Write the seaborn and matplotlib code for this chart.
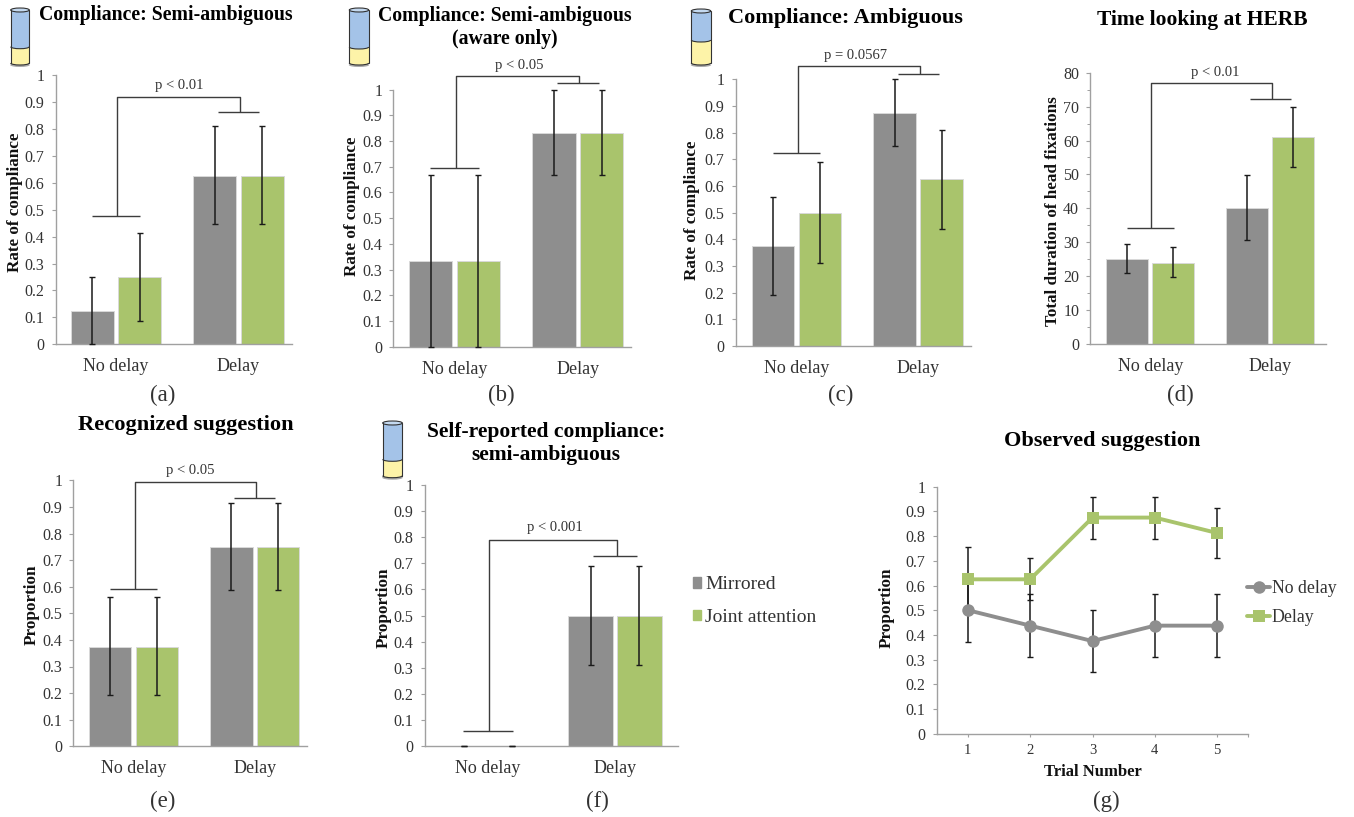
import pandas as pd
import numpy as np
import matplotlib
matplotlib.use("Agg")
import matplotlib.pyplot as plt
import seaborn as sns
from matplotlib.lines import Line2D
from matplotlib.patches import Arc, Patch, Rectangle, Ellipse

W, H = 1354, 817
GRAY = "#8e8e8e"
GREEN = "#a9c46c"
TICK_TEXT = "#333333"

conditions = ["No delay", "Delay"]
attention = ["Mirrored", "Joint attention"]

# means and error bar ends: mirrored no delay, mirrored delay, joint no delay, joint delay
a_means = [0.125, 0.625, 0.25, 0.625]
a_low = [0.0, 0.445, 0.085, 0.445]
a_high = [0.25, 0.81, 0.415, 0.81]

b_means = [0.333, 0.833, 0.333, 0.833]
b_low = [0.0, 0.667, 0.0, 0.667]
b_high = [0.667, 1.0, 0.667, 1.0]

c_means = [0.375, 0.875, 0.5, 0.625]
c_low = [0.193, 0.75, 0.31, 0.44]
c_high = [0.557, 1.0, 0.69, 0.81]

d_means = [25, 40, 24, 61]
d_low = [21, 30.7, 19.7, 52.2]
d_high = [29.5, 49.7, 28.5, 70]

e_means = [0.375, 0.75, 0.375, 0.75]
e_low = [0.193, 0.587, 0.193, 0.587]
e_high = [0.56, 0.915, 0.56, 0.915]

f_means = [0.0, 0.5, 0.0, 0.5]
f_low = [0.0, 0.31, 0.0, 0.31]
f_high = [0.0, 0.69, 0.0, 0.69]

trials = [1, 2, 3, 4, 5]
g_nodelay = [0.5, 0.4375, 0.375, 0.4375, 0.4375]
g_nodelay_low = [0.37, 0.31, 0.25, 0.31, 0.31]
g_nodelay_high = [0.63, 0.565, 0.5, 0.565, 0.565]
g_delay = [0.625, 0.625, 0.875, 0.875, 0.8125]
g_delay_low = [0.495, 0.54, 0.79, 0.79, 0.712]
g_delay_high = [0.755, 0.71, 0.96, 0.96, 0.915]

sns.set_theme(style="white")
plt.rcParams["font.family"] = ["Liberation Serif", "DejaVu Serif"]
plt.rcParams["axes.unicode_minus"] = False

fig = plt.figure(figsize=(W / 100, H / 100), dpi=100)

# overlay in pixel coordinates, for the titles, captions and cylinder icons
overlay = fig.add_axes([0, 0, 1, 1], zorder=5)
overlay.set_xlim(0, W)
overlay.set_ylim(H, 0)
overlay.axis("off")


def px_axes(left, right, top, bottom):
    return fig.add_axes([left / W, 1 - bottom / H, (right - left) / W, (bottom - top) / H])


def style_axes(ax, ymax, step, xlim):
    ax.set_xlim(*xlim)
    ax.set_ylim(0, ymax)
    ax.set_xlabel("")
    ax.set_ylabel("")
    ticks = np.arange(0, ymax + step / 2, step)
    ax.set_yticks(ticks)
    if step == 10:
        ax.set_yticklabels([str(int(t)) for t in ticks])
    else:
        ax.set_yticklabels(["0"] + ["%.1f" % t for t in ticks[1:-1]] + ["1"])
    sns.despine(ax=ax)
    for side in ["left", "bottom"]:
        ax.spines[side].set_color("#a0a0a0")
        ax.spines[side].set_linewidth(1.0)
    ax.tick_params(axis="y", left=True, length=3, width=0.8, color="#a0a0a0",
                   labelsize=11.5, labelcolor=TICK_TEXT, pad=5)


def bar_panel(box, means, low, high, ymax, step, xlim, bracket, p_text, p_pos):
    ax = px_axes(*box)
    df = pd.DataFrame({
        "condition": conditions * 2,
        "attention": [attention[0]] * 2 + [attention[1]] * 2,
        "value": means,
    })
    sns.barplot(data=df, x="condition", y="value", hue="attention", order=conditions,
                hue_order=attention, palette=[GRAY, GREEN], saturation=1, width=0.77, gap=0.088,
                errorbar=None, legend=False, edgecolor="#d9d9d9", linewidth=0.7, ax=ax)
    style_axes(ax, ymax, step, xlim)
    ax.tick_params(axis="x", bottom=False, labelsize=13, labelcolor=TICK_TEXT, pad=4)

    centers = [p.get_x() + p.get_width() / 2 for c in ax.containers for p in c]
    for x, m, lo, hi in zip(centers, means, low, high):
        ax.errorbar(x, m, yerr=[[m - lo], [hi - m]], color="#1a1a1a", lw=1.1,
                    capsize=2.2, capthick=1.0, clip_on=False, zorder=4)

    # significance bracket
    top, left_y, right_y = bracket
    line = dict(color="#3c3c3c", lw=1.0, clip_on=False, zorder=4, solid_capstyle="butt")
    ax.plot([0.01, 0.01, 1.012, 1.012], [left_y, top, top, right_y], **line)
    ax.plot([-0.195, 0.195], [left_y, left_y], **line)
    ax.plot([0.83, 1.17], [right_y, right_y], **line)
    ax.text(p_pos[0], p_pos[1], p_text, ha="center", va="center", fontsize=10.5,
            color=TICK_TEXT, clip_on=False)
    return ax


def cylinder(left, right, top, boundary, bottom):
    w = right - left
    mid = (left + right) / 2
    cap = 4.0
    edge = dict(color="#333333", lw=0.8)
    overlay.add_patch(Ellipse((mid, bottom + 1), w + 1, cap, color="#a8a8a8", lw=0))
    overlay.add_patch(Rectangle((left, boundary), w, bottom - boundary - 1, fc="#fdf3a8", ec="none"))
    overlay.add_patch(Ellipse((mid, bottom - 1), w, cap, fc="#fdf3a8", ec="none"))
    overlay.add_patch(Arc((mid, bottom - 1), w, cap, theta1=0, theta2=180, **edge))
    overlay.add_patch(Rectangle((left, top), w, boundary - top, fc="#a4c3e8", ec="none"))
    overlay.add_patch(Ellipse((mid, boundary), w, cap, fc="#a4c3e8", ec="none"))
    overlay.add_patch(Arc((mid, boundary), w, cap, theta1=0, theta2=180, **edge))
    overlay.plot([left, left], [top, bottom - 1], **edge)
    overlay.plot([right, right], [top, bottom - 1], **edge)
    overlay.add_patch(Ellipse((mid, top), w, cap, fc="#c4d9f0", ec="#333333", lw=0.8))


def title(x, y, text, size):
    overlay.text(x, y, text, ha="center", va="center", fontsize=size, fontweight="bold", color="black")


def caption(x, y, text):
    overlay.text(x, y, text, ha="center", va="center", fontsize=16.5, color=TICK_TEXT)


def ylabel(x, y, text):
    overlay.text(x, y, text, ha="center", va="center", rotation=90, fontsize=12.3,
                 fontweight="bold", color="#111111")


bar_panel((55.7, 291.7, 75, 344.3), a_means, a_low, a_high, 1, 0.1, (-0.492, 1.434),
          (0.917, 0.475, 0.864), "p < 0.01", (0.52, 0.96))
bar_panel((393.3, 630.7, 89.7, 346.7), b_means, b_low, b_high, 1, 0.1, (-0.496, 1.429),
          (1.053, 0.696, 1.025), "p < 0.05", (0.526, 1.093))
bar_panel((735.7, 970.7, 79.3, 346), c_means, c_low, c_high, 1, 0.1, (-0.499, 1.43),
          (1.051, 0.725, 1.019), "p = 0.0567", (0.486, 1.089))
ax_d = bar_panel((1090.3, 1325.7, 72.7, 344), d_means, d_low, d_high, 80, 10, (-0.5, 1.462),
                 (76.95, 34.1, 72.1), "p < 0.01", (0.54, 80.2))
ax_d.set_yticks(np.arange(5, 80, 10), minor=True)
ax_d.tick_params(axis="y", which="minor", left=True, length=2, width=0.7, color="#a0a0a0")
bar_panel((73.3, 307.3, 480.3, 746.3), e_means, e_low, e_high, 1, 0.1, (-0.497, 1.434),
          (0.994, 0.591, 0.935), "p < 0.05", (0.464, 1.038))
ax_f = bar_panel((424.7, 678.3, 485, 746), f_means, f_low, f_high, 1, 0.1, (-0.498, 1.498),
                 (0.789, 0.059, 0.729), "p < 0.001", (0.528, 0.838))
ax_f.legend(handles=[Patch(color=GRAY, label=attention[0]), Patch(color=GREEN, label=attention[1])],
            loc="center left", bbox_to_anchor=(675 / W, 1 - 601 / H), bbox_transform=fig.transFigure,
            frameon=False, fontsize=14, handlelength=0.46, handleheight=0.46, handletextpad=0.2,
            labelspacing=0.8, labelcolor=TICK_TEXT)

# line panel
ax_g = px_axes(936.7, 1248.3, 486.7, 733.7)
df_g = pd.DataFrame({
    "trial": trials * 2,
    "value": g_nodelay + g_delay,
    "group": [conditions[0]] * 5 + [conditions[1]] * 5,
})
for values, lows, highs in [(g_nodelay, g_nodelay_low, g_nodelay_high), (g_delay, g_delay_low, g_delay_high)]:
    for t, m, lo, hi in zip(trials, values, lows, highs):
        ax_g.errorbar(t, m, yerr=[[m - lo], [hi - m]], color="#1a1a1a", lw=1.1,
                      capsize=2.2, capthick=1.0, zorder=1)
sns.lineplot(data=df_g, x="trial", y="value", hue="group", style="group", hue_order=conditions,
             style_order=conditions, palette=[GRAY, GREEN], markers=["o", "s"], dashes=False,
             markersize=9, markeredgewidth=0, linewidth=2.8, errorbar=None, legend=False,
             zorder=3, ax=ax_g)
style_axes(ax_g, 1, 0.1, (0.5, 5.5))
ax_g.set_xticks(trials + [5.5])
ax_g.set_xticklabels([str(t) for t in trials] + [""])
ax_g.tick_params(axis="x", bottom=True, length=2.5, width=0.8, color="#a0a0a0", labelsize=10.5,
                 labelcolor=TICK_TEXT, pad=5)
ax_g.set_xlabel("Trial Number", fontsize=12, fontweight="bold", color="#111111", labelpad=5)
ax_g.legend(handles=[
    Line2D([], [], color=GRAY, marker="o", markersize=9, markeredgewidth=0, lw=2.8, label=conditions[0]),
    Line2D([], [], color=GREEN, marker="s", markersize=9, markeredgewidth=0, lw=2.8, label=conditions[1]),
], loc="center left", bbox_to_anchor=(1231 / W, 1 - 603 / H), bbox_transform=fig.transFigure,
    frameon=False, fontsize=12.8, handlelength=1.3, handletextpad=0.1, labelspacing=0.65,
    labelcolor=TICK_TEXT)

title(165.7, 14.5, "Compliance: Semi-ambiguous", 14.2)
title(505, 27, "Compliance: Semi-ambiguous\n(aware only)", 14.2)
title(845, 17.5, "Compliance: Ambiguous", 16)
title(1202, 19.5, "Time looking at HERB", 15.5)
title(186, 425, "Recognized suggestion", 16.2)
title(545.7, 443.5, "Self-reported compliance:\nsemi-ambiguous", 15.5)
title(1101.7, 441, "Observed suggestion", 16)

for x, y, c in [(162.7, 395.5, "(a)"), (501.7, 395.5, "(b)"), (841, 395.5, "(c)"), (1180.7, 395.5, "(d)"),
                (162.7, 801.5, "(e)"), (597.7, 801.5, "(f)"), (1106.7, 801.5, "(g)")]:
    caption(x, y, c)

ylabel(15, 202.5, "Rate of compliance")
ylabel(352.5, 206, "Rate of compliance")
ylabel(692.5, 210, "Rate of compliance")
ylabel(1053, 211, "Total duration of head fixations")
ylabel(31.5, 604.5, "Proportion")
ylabel(383.5, 608, "Proportion")
ylabel(886.5, 607.5, "Proportion")

cylinder(10.7, 29.3, 10, 46.7, 64)
cylinder(349.3, 368.7, 10, 47, 64)
cylinder(691.3, 710.7, 11, 40, 64)
cylinder(382.7, 402.3, 423, 459.3, 476.7)

fig.savefig("out.png", dpi=100)
